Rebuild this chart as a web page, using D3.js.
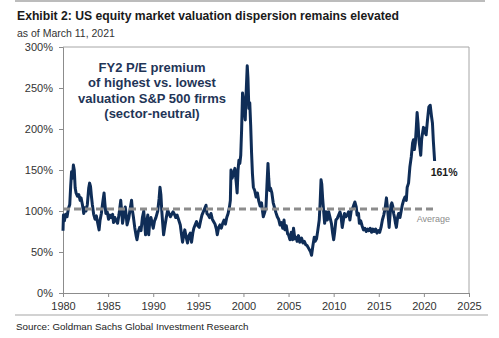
<!DOCTYPE html>
<html><head><meta charset="utf-8">
<script src="https://cdn.jsdelivr.net/npm/d3@7"></script>
<style>body{margin:0;background:#fff}svg{display:block;font-family:Arial,"Liberation Sans",sans-serif}</style>
</head><body><div id="chart"></div>
<script>
const title = "Exhibit 2: US equity market valuation dispersion remains elevated";
const subtitle = "as of March 11, 2021";
const source = "Source: Goldman Sachs Global Investment Research";
const annotation = ["FY2 P/E premium", "of highest vs. lowest", "valuation S&P 500 firms", "(sector-neutral)"];
const yTicks = [0, 50, 100, 150, 200, 250, 300];
const xTicks = [1980, 1985, 1990, 1995, 2000, 2005, 2010, 2015, 2020, 2025];
const averageValue = 102.5;
const lastLabel = "161%";
const years = [
1980.00,1980.05,1980.15,1980.30,1980.45,1980.6,1980.75,1980.85,1980.95,1981.05,1981.15,1981.25,1981.35,1981.45,1981.6,1981.75,1981.9,
1982.0,1982.15,1982.3,1982.4,1982.55,1982.7,1982.85,1982.95,1983.05,1983.15,1983.25,1983.4,1983.55,1983.7,1983.85,
1984.0,1984.1,1984.25,1984.4,1984.55,1984.65,1984.75,1984.9,1985.05,1985.2,1985.35,1985.5,1985.6,1985.75,1985.9,
1986.05,1986.2,1986.4,1986.5,1986.6,1986.75,1986.9,1987.0,1987.1,1987.3,1987.45,1987.6,1987.7,1987.8,1987.95,
1988.1,1988.2,1988.35,1988.5,1988.65,1988.8,1988.95,1989.05,1989.15,1989.3,1989.4,1989.5,1989.6,1989.75,1989.9,
1990.0,1990.15,1990.3,1990.5,1990.65,1990.75,1990.85,1990.95,1991.05,1991.15,1991.3,1991.45,1991.6,1991.75,1991.9,
1992.05,1992.2,1992.35,1992.5,1992.65,1992.8,1993.0,1993.15,1993.25,1993.4,1993.5,1993.65,1993.8,1993.95,
1994.1,1994.25,1994.4,1994.5,1994.65,1994.8,1994.95,1995.1,1995.25,1995.4,1995.55,1995.7,1995.85,1995.95,
1996.1,1996.25,1996.4,1996.55,1996.7,1996.85,1997.0,1997.1,1997.25,1997.4,1997.55,1997.7,1997.85,
1998.0,1998.15,1998.3,1998.45,1998.55,1998.62,1998.75,1998.9,1999.05,1999.2,1999.3,1999.4,1999.5,1999.6,1999.7,1999.8,1999.9,
2000.0,2000.1,2000.2,2000.3,2000.42,2000.5,2000.6,2000.7,2000.8,2000.9,2001.0,2001.1,2001.25,2001.4,2001.55,2001.7,2001.85,
2002.0,2002.1,2002.2,2002.35,2002.5,2002.6,2002.72,2002.8,2002.9,2003.0,2003.15,2003.3,2003.45,2003.6,2003.75,2003.9,
2004.05,2004.2,2004.35,2004.5,2004.6,2004.75,2004.9,2005.0,2005.15,2005.3,2005.45,2005.55,2005.7,2005.85,2005.95,
2006.1,2006.25,2006.45,2006.6,2006.75,2006.9,2007.05,2007.2,2007.35,2007.45,2007.55,2007.7,2007.85,2007.95,
2008.1,2008.25,2008.4,2008.5,2008.6,2008.68,2008.78,2008.88,2009.0,2009.15,2009.3,2009.45,2009.6,2009.75,2009.9,
2010.0,2010.1,2010.25,2010.4,2010.55,2010.7,2010.8,2010.95,2011.05,2011.2,2011.35,2011.5,2011.65,2011.8,2011.95,
2012.1,2012.25,2012.35,2012.5,2012.6,2012.75,2012.85,2013.0,2013.15,2013.3,2013.45,2013.6,2013.75,2013.9,
2014.05,2014.2,2014.35,2014.5,2014.65,2014.8,2014.95,2015.1,2015.25,2015.4,2015.55,2015.7,2015.85,2015.95,
2016.05,2016.15,2016.25,2016.35,2016.45,2016.55,2016.65,2016.75,2016.85,2016.95,2017.1,2017.2,2017.35,2017.5,2017.6,2017.75,2017.9,
2018.05,2018.15,2018.3,2018.45,2018.6,2018.75,2018.85,2018.95,2019.05,2019.15,2019.25,2019.35,2019.45,2019.55,2019.65,2019.75,2019.85,2019.95,
2020.05,2020.15,2020.25,2020.4,2020.55,2020.7,2020.85,2020.95,2021.05,2021.19
];
const premium = [
76,95,88,96,93,103,108,130,148,140,156,150,128,122,118,120,113,
116,108,97,104,100,108,128,134,130,118,108,96,90,94,85,
77,88,97,110,122,108,97,99,90,95,92,96,86,92,88,
85,95,113,100,85,95,105,95,83,92,103,113,100,93,80,
70,65,75,80,76,92,100,85,71,88,95,71,85,92,84,
79,88,92,100,115,129,120,100,85,71,82,92,101,97,93,
96,99,96,92,95,90,83,70,62,72,77,68,61,70,
73,62,74,79,83,87,82,80,88,95,99,103,107,97,
95,92,97,90,87,84,78,71,80,83,79,85,89,
84,92,97,105,113,150,140,146,152,135,122,150,162,158,168,200,244,
235,223,211,244,277,262,225,232,205,171,145,129,125,117,122,112,106,
110,101,93,98,105,130,158,140,125,128,122,110,104,98,93,90,
83,86,79,89,77,82,72,71,65,74,65,79,66,68,63,
70,62,67,61,63,59,58,55,52,50,46,58,68,63,
66,77,89,110,138,133,115,101,85,99,89,99,92,85,72,
65,73,89,91,95,99,95,80,87,97,93,95,99,89,101,
103,108,111,105,95,97,85,88,82,77,79,75,78,76,
79,74,78,75,78,73,76,74,80,89,95,103,116,105,
93,80,95,107,110,106,97,92,85,80,93,97,92,101,107,113,117,
113,129,134,154,166,183,187,175,183,200,220,207,187,178,168,187,195,202,
195,201,193,211,227,229,215,207,185,161
];

const W = 499, H = 338;
const m = {left: 63, right: 469, top: 47, bottom: 293};
const svg = d3.select("#chart").append("svg").attr("width", W).attr("height", H);

const x = d3.scaleLinear().domain([1980, 2025]).range([m.left, m.right]);
const y = d3.scaleLinear().domain([0, 300]).range([m.bottom, m.top]);

// rules
svg.append("line").attr("x1", 15).attr("x2", 485).attr("y1", 1).attr("y2", 1).attr("stroke", "#a6a6a6").attr("stroke-width", 1.5);
svg.append("line").attr("x1", 15).attr("x2", 488).attr("y1", 315).attr("y2", 315).attr("stroke", "#a6a6a6").attr("stroke-width", 1.2);

svg.append("text").attr("x", 17).attr("y", 20).attr("font-size", 12.2).attr("font-weight", "bold").attr("fill", "#1a1a1a").text(title);
svg.append("text").attr("x", 17).attr("y", 37).attr("font-size", 10.5).attr("fill", "#333").text(subtitle);
svg.append("text").attr("x", 16).attr("y", 330).attr("font-size", 9.8).attr("fill", "#222").text(source);

// frame
svg.append("path").attr("d", `M${m.left},${m.top}H${m.right}V${m.bottom}`).attr("fill", "none").attr("stroke", "#a6a6a6").attr("stroke-width", 1);

const yAxis = svg.append("g").attr("transform", `translate(${m.left},0)`)
  .call(d3.axisLeft(y).tickValues(yTicks).tickFormat(d => d + "%").tickSize(4).tickPadding(6));
const xAxis = svg.append("g").attr("transform", `translate(0,${m.bottom})`)
  .call(d3.axisBottom(x).tickValues(xTicks).tickFormat(d3.format("d")).tickSize(4).tickPadding(5));
[yAxis, xAxis].forEach(a => {
  a.selectAll(".domain,line").attr("stroke", "#8c8c8c");
  a.selectAll("text").attr("fill", "#333").attr("font-size", 11).attr("font-family", "Arial,'Liberation Sans',sans-serif");
});

const data = years.map((yr, i) => ({yr, v: premium[i]}));
svg.append("path").datum(data)
  .attr("fill", "none").attr("stroke", "#0f2d57").attr("stroke-width", 3).attr("stroke-linejoin", "round")
  .attr("d", d3.line().x(d => x(d.yr)).y(d => y(d.v)));

svg.append("line").attr("x1", x(1980)).attr("x2", x(2021.1)).attr("y1", y(averageValue)).attr("y2", y(averageValue))
  .attr("stroke", "#8c8c8c").attr("stroke-width", 3).attr("stroke-dasharray", "7,4");

svg.append("text").attr("x", x(2019.2)).attr("y", y(averageValue) + 13).attr("font-size", 9).attr("fill", "#8c8c8c").text("Average");
svg.append("text").attr("x", x(2020.75)).attr("y", y(premium[premium.length - 1]) + 15).attr("font-size", 10.5).attr("font-weight", "bold").attr("fill", "#1a1a1a").text(lastLabel);

const ann = svg.append("text").attr("text-anchor", "middle").attr("font-size", 13).attr("font-weight", "bold").attr("fill", "#1f3557");
annotation.forEach((t, i) => ann.append("tspan").attr("x", 152).attr("y", 72 + i * 15.3).text(t));
</script></body></html>
